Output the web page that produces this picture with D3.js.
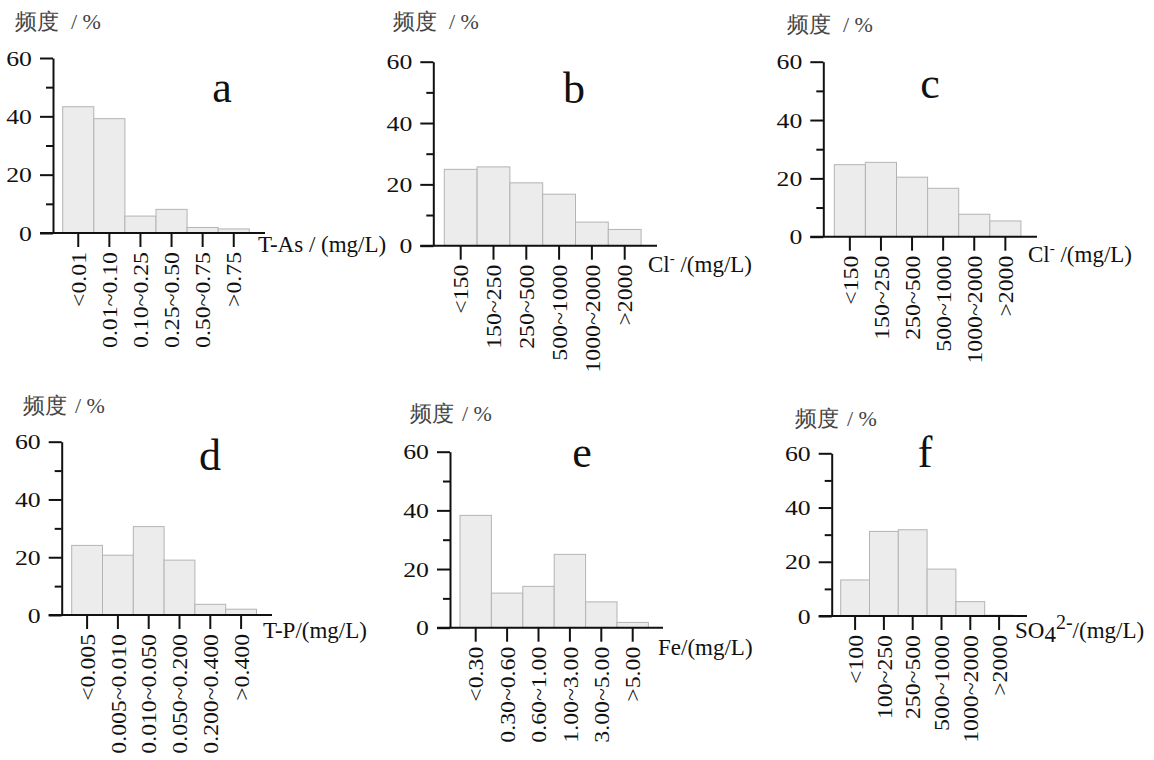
<!DOCTYPE html>
<html>
<head>
<meta charset="utf-8">
<script src="https://cdn.jsdelivr.net/npm/d3@7"></script>
<style>
  body { margin: 0; background: #fff; }
  svg text { font-family: "Liberation Serif", "Times New Roman", serif; fill: #111; }
</style>
</head>
<body>
<div id="display"></div>
<script>
var width = 1154, height = 760;

// data
var catsA = ["<0.01", "0.01~0.10", "0.10~0.25", "0.25~0.50", "0.50~0.75", ">0.75"];
var valsA = [43.3, 39.2, 5.8, 8.1, 1.9, 1.4];
var catsCl = ["<150", "150~250", "250~500", "500~1000", "1000~2000", ">2000"];
var valsB = [24.9, 25.7, 20.5, 16.8, 7.7, 5.3];
var valsC = [24.7, 25.5, 20.4, 16.6, 7.7, 5.4];
var catsD = ["<0.005", "0.005~0.010", "0.010~0.050", "0.050~0.200", "0.200~0.400", ">0.400"];
var valsD = [24.1, 20.7, 30.6, 19.0, 3.7, 2.0];
var catsE = ["<0.30", "0.30~0.60", "0.60~1.00", "1.00~3.00", "3.00~5.00", ">5.00"];
var valsE = [38.3, 11.8, 14.1, 25.0, 8.8, 1.8];
var catsF = ["<100", "100~250", "250~500", "500~1000", "1000~2000", ">2000"];
var valsF = [13.3, 31.2, 31.8, 17.3, 5.3, 0.3];
var majorTicks = [0, 20, 40, 60];
var minorTicks = [10, 30, 50];
var yTitle = "频度";

// panel layout (pixels)
var panels = [
  { id: "a", cats: catsA, vals: valsA, ax: 53, y0: 233, yTop: 58, bx: 62.7, bw: 31.1, xEnd: 265,
    title: [15, 29], letter: [222, 102], unit: [258, 252], unitKind: "As" },
  { id: "b", cats: catsCl, vals: valsB, ax: 433.3, y0: 245.7, yTop: 61.7, bx: 444.3, bw: 32.8, xEnd: 657,
    title: [393, 29], letter: [574, 103], unit: [648, 272], unitKind: "Cl" },
  { id: "c", cats: catsCl, vals: valsC, ax: 823.3, y0: 236.7, yTop: 61.7, bx: 834.3, bw: 31.1, xEnd: 1037,
    title: [787, 32], letter: [930, 98], unit: [1028, 262], unitKind: "Cl" },
  { id: "d", cats: catsD, vals: valsD, ax: 61.7, y0: 615, yTop: 441.7, bx: 71.7, bw: 30.8, xEnd: 272,
    title: [23, 413], letter: [210, 470], unit: [263, 638], unitKind: "P" },
  { id: "e", cats: catsE, vals: valsE, ax: 450, y0: 627.7, yTop: 451.7, bx: 460, bw: 31.4, xEnd: 663,
    title: [410, 421], letter: [582, 467], unit: [658, 655], unitKind: "Fe" },
  { id: "f", cats: catsF, vals: valsF, ax: 831.7, y0: 616, yTop: 453.3, bx: 840.7, bw: 28.8, xEnd: 1027,
    title: [795, 426], letter: [925, 467], unit: [1015, 638], unitKind: "SO4" }
];

var svg = d3.select("#display")
  .append("svg")
  .attr("width", width)
  .attr("height", height);

svg.append("rect").attr("width", width).attr("height", height).attr("fill", "#fff");

panels.forEach(function (p) {
  var g = svg.append("g").attr("class", "panel-" + p.id);

  var x = d3.scaleBand()
    .domain(p.cats)
    .range([p.bx, p.bx + p.bw * p.cats.length])
    .padding(0);
  var y = d3.scaleLinear().domain([0, 60]).range([p.y0, p.yTop]);

  // bars
  g.selectAll("rect.bar")
    .data(p.vals)
    .enter()
    .append("rect")
    .attr("class", "bar")
    .attr("x", (d, i) => x(p.cats[i]))
    .attr("y", d => y(d))
    .attr("width", x.bandwidth())
    .attr("height", d => y(0) - y(d))
    .attr("fill", "#ececec")
    .attr("stroke", "#b4b4b4")
    .attr("stroke-width", 1);

  // minor y ticks
  var yMinor = g.append("g")
    .attr("transform", "translate(" + p.ax + ",0)")
    .call(d3.axisLeft(y).tickValues(minorTicks).tickSize(7).tickFormat(""));
  yMinor.select(".domain").remove();

  // major y ticks
  var yAxis = g.append("g")
    .attr("transform", "translate(" + p.ax + ",0)")
    .call(d3.axisLeft(y).tickValues(majorTicks).tickSize(13).tickSizeOuter(0).tickPadding(5));
  yAxis.selectAll("text")
    .attr("font-size", 22)
    .attr("font-family", "Liberation Serif")
    .attr("transform", "scale(1.17,1)");

  // x axis
  var xAxis = g.append("g")
    .attr("transform", "translate(0," + p.y0 + ")")
    .call(d3.axisBottom(x).tickSize(14).tickSizeOuter(0));
  xAxis.select(".domain").remove();
  xAxis.selectAll("text")
    .attr("font-size", 22)
    .attr("font-family", "Liberation Serif")
    .attr("text-anchor", "end")
    .attr("x", 0).attr("y", 0).attr("dy", "0.35em")
    .attr("transform", "translate(0,19) scale(1,1.08) rotate(-90)");
  g.append("line")
    .attr("x1", p.ax - 13).attr("x2", p.xEnd)
    .attr("y1", p.y0).attr("y2", p.y0)
    .attr("stroke", "#111").attr("stroke-width", 2);

  g.selectAll(".domain, .tick line").attr("stroke", "#111").attr("stroke-width", 2);

  // title 频度 / %
  var t = g.append("text")
    .attr("x", p.title[0]).attr("y", p.title[1])
    .attr("font-family", "Noto Sans CJK SC")
    .attr("font-size", 22)
    .style("fill", "#444");
  t.append("tspan").text(yTitle);
  t.append("tspan").attr("dx", p.id < "d" ? 12 : 8).text("/ %");

  // panel letter
  g.append("text")
    .attr("x", p.letter[0]).attr("y", p.letter[1])
    .attr("text-anchor", "middle")
    .attr("font-size", 44)
    .text(p.id);

  // unit label
  var u = g.append("text")
    .attr("x", p.unit[0]).attr("y", p.unit[1])
    .attr("font-size", 23);
  if (p.unitKind == "As") {
    u.text("T-As / (mg/L)");
  } else if (p.unitKind == "P") {
    u.text("T-P/(mg/L)");
  } else if (p.unitKind == "Fe") {
    u.text("Fe/(mg/L)");
  } else if (p.unitKind == "Cl") {
    u.append("tspan").text("Cl");
    u.append("tspan").attr("font-size", 15).attr("dy", -9).text("-");
    u.append("tspan").attr("dy", 9).text(" /(mg/L)");
  } else {
    u.append("tspan").text("SO");
    u.append("tspan").attr("dy", 4).text("4");
    u.append("tspan").attr("font-size", 20).attr("dy", -13).text("2-");
    u.append("tspan").attr("dy", 9).text("/(mg/L)");
  }
});
</script>
</body>
</html>
